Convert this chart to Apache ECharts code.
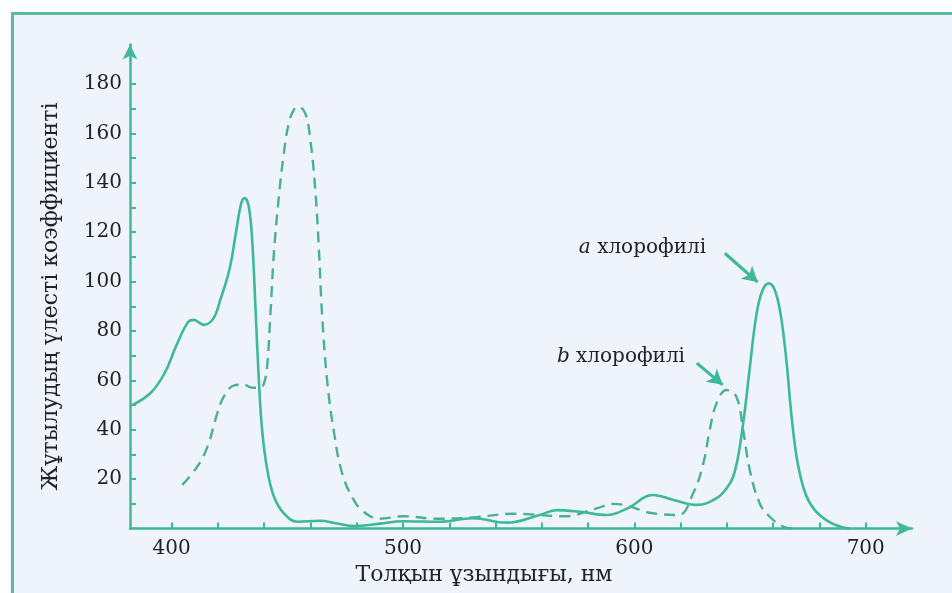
<!DOCTYPE html>
<html>
<head>
<meta charset="utf-8">
<script src="https://cdn.jsdelivr.net/npm/echarts@6/dist/echarts.min.js"></script>
<style>
html,body{margin:0;padding:0;background:#fbfdff;}
#c{width:952px;height:593px;}
</style>
</head>
<body>
<div id="c"></div>
<script>
// Chlorophyll a (solid)
var wavelengthA = [383,391,397,402,407,409.5,414,418,421,425,428,430,431.5,433.3,434.8,436.3,437.7,439.1,441.3,444.2,448.5,454.3,464,471.5,479,490,500,516,530,545,559,566.5,576.5,588,597,608,617,627,635.5,640,642.7,645,647.5,650,652.5,655,658,660.5,663,665.5,668,670.5,674,678,684,689,693];
var absorbA     = [50,55,63,74,83.5,84.5,82.5,85,92.5,105,121,131.5,133.8,130.5,117,88,60,40,24,13,6.2,2.8,3.2,2.1,1.0,2,3,2.8,4.2,2.4,5.5,7.5,6.8,5.5,8.2,13.6,11.6,9.6,12.3,16.5,21,30,46,66,85,95.5,99.3,97,88,70,45,27,14,7.5,2.8,0.8,0];
// Chlorophyll b (dashed)
var wavelengthB = [404.6,411,415.4,419.7,422.6,427,431,435,438,439.8,441.3,442.7,444.2,446.3,448.5,450.6,452.8,454.9,457.8,460,462.1,463.6,465,467.2,470,473.7,478.7,483,490,500,515,530,548,570,583,591,598,606,619,625.4,629.8,632.6,635.5,639.8,644.1,647,649.9,654.2,658.5,664.3,668];
var absorbB     = [17.7,25,33,46.5,53.5,58,58.3,57,57,58.5,66,87,111.5,134,152,164,169.5,170.8,168,157,137,114,87,60,40,22.4,11.6,6.8,4,5,4,4.5,6,5,8,10,9,6.5,5.5,14.3,26.4,40,50.7,56.1,53.4,40,23.7,10.2,4.8,0.8,0];
var xTickValues = [400,420,440,460,480,500,520,540,560,580,600,620,640,660,680,700];
var xLabelValues = [400,500,600,700];
var yTickValues = [10,20,30,40,50,60,70,80,90,100,110,120,130,140,150,160,170,180];
var yLabelValues = [20,40,60,80,100,120,140,160,180];
var xName = 'Толқын ұзындығы, нм';
var yName = 'Жұтылудың үлесті коэффициенті';
var labelA = 'хлорофилі';
var labelB = 'хлорофилі';

function zip(xs, ys){ return xs.map(function(x,i){ return [x, ys[i]]; }); }

var teal = '#3db89a';
var font = 'DejaVu Serif';
var txt = '#222222';
var chart = echarts.init(document.getElementById('c'), null, {renderer:'canvas'});
var option = {
  animation:false,
  backgroundColor:'transparent',
  graphic:[
    {type:'rect', shape:{x:12, y:13, width:940, height:580}, style:{fill:'#eff4fc'}, z:-10},
    {type:'polyline', shape:{points:[[12.5,593],[12.5,13.5],[952,13.5]]}, style:{stroke:'#5bb9a2', lineWidth:3, fill:null}, z:-9}
  ],
  grid:{left:130, right:40, top:44.5, bottom:64.4},
  xAxis:{
    type:'value', min:382, max:720,
    name:xName, nameLocation:'middle', nameGap:36,
    nameTextStyle:{fontFamily:font, fontSize:22, color:txt, padding:[0,74,0,0]},
    axisLine:{show:true, onZero:false, symbol:['none','arrow'], symbolSize:[11,16], lineStyle:{color:teal, width:2.5}},
    axisTick:{show:true, inside:true, length:6, customValues:xTickValues, lineStyle:{color:teal, width:2}},
    axisLabel:{customValues:xLabelValues, fontFamily:font, fontSize:20, color:txt, margin:10},
    splitLine:{show:false}
  },
  yAxis:{
    type:'value', min:0, max:196,
    name:yName, nameLocation:'middle', nameGap:68, nameRotate:90,
    nameTextStyle:{fontFamily:font, fontSize:22, color:txt, padding:[0,20,0,0]},
    axisLine:{show:true, onZero:false, symbol:['none','arrow'], symbolSize:[11,15], lineStyle:{color:teal, width:2.5}},
    axisTick:{show:true, inside:true, length:6, customValues:yTickValues, lineStyle:{color:teal, width:2}},
    axisLabel:{customValues:yLabelValues, fontFamily:font, fontSize:20, color:txt, margin:8},
    splitLine:{show:false}
  },
  series:[
    {
      type:'line', name:'a', data:zip(wavelengthA, absorbA), smooth:0.4, showSymbol:false,
      lineStyle:{color:teal, width:2.6}, z:3,
      markLine:{
        silent:true, symbol:['none','arrow'], symbolSize:[13,15],
        lineStyle:{color:teal, width:3.2, type:'solid'}, label:{show:false},
        data:[[{coord:[639.1,111.5]},{coord:[653.3,99.8]}]]
      },
      markPoint:{
        symbol:'circle', symbolSize:0, silent:true,
        label:{show:true, position:'inside', formatter:'{i|a} '+labelA, fontFamily:font, fontSize:20, color:txt,
          rich:{i:{fontFamily:font, fontStyle:'italic', fontSize:20, color:txt}}},
        data:[{coord:[603.5,113.6]}]
      }
    },
    {
      type:'line', name:'b', data:zip(wavelengthB, absorbB), smooth:0.4, showSymbol:false,
      lineStyle:{color:'#4aae98', width:2.4, type:[11,7]}, z:2,
      markLine:{
        silent:true, symbol:['none','arrow'], symbolSize:[13,15],
        lineStyle:{color:teal, width:3.2, type:'solid'}, label:{show:false},
        data:[[{coord:[627,67]},{coord:[638.2,58.2]}]]
      },
      markPoint:{
        symbol:'circle', symbolSize:0, silent:true,
        label:{show:true, position:'inside', formatter:'{i|b} '+labelB, fontFamily:font, fontSize:20, color:txt,
          rich:{i:{fontFamily:font, fontStyle:'italic', fontSize:20, color:txt}}},
        data:[{coord:[594.2,69.5]}]
      }
    }
  ]
};
chart.setOption(option);
</script>
</body>
</html>
